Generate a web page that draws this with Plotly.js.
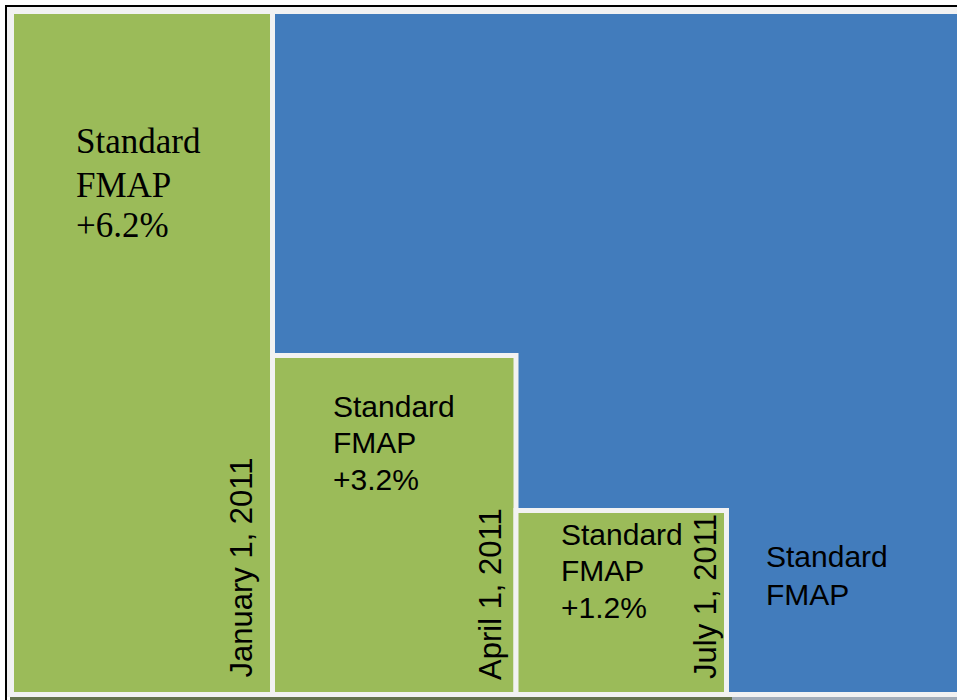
<!DOCTYPE html>
<html>
<head>
<meta charset="utf-8">
<script src="https://cdn.plot.ly/plotly-3.0.1.min.js"></script>
<style>html,body{margin:0;padding:0;background:#fff;}#chart{width:957px;height:700px;}</style>
</head>
<body>
<div id="chart"></div>
<script>
// ---- data ----
const periods = ['Before January 1, 2011', 'January 1 to March 31, 2011', 'April 1 to June 30, 2011', 'From July 1, 2011'];
const changeDates = ['January 1, 2011', 'April 1, 2011', 'July 1, 2011'];
const fmapIncrease = ['+6.2%', '+3.2%', '+1.2%'];
const stepHeight = [100.37, 49.63, 26.77];   // height of the enhanced-FMAP steps (% of full height)
const standardHeight = [100.37];             // standard FMAP area
const blockWords = ['Standard', 'FMAP'];

// ---- layout constants ----
const W = 957, H = 700;
const M = {l: 7, r: 0, t: 7, b: 3};
const PW = W - M.l - M.r, PH = H - M.t - M.b;
const BASE = -0.37;
const COL_EDGES = [4.5, 265.5, 509, 719.5, 952.5];
const GREEN = '#9bbb59', BLUE = '#427cbc', GAP = '#f2f2f2';

const px = a => (a - M.l) / PW;
const py = a => (H - M.b - a) / PH;

const greenX = [], greenW = [], greenY = [];
for (let i = 0; i < stepHeight.length; i++) {
  greenX.push((COL_EDGES[i] + COL_EDGES[i + 1]) / 2);
  greenW.push(COL_EDGES[i + 1] - COL_EDGES[i]);
  greenY.push(stepHeight[i] - BASE);
}
const blueX = [(COL_EDGES[1] + COL_EDGES[4]) / 2];
const blueW = [COL_EDGES[4] - COL_EDGES[1]];
const blueY = [standardHeight[0] - BASE];

const traces = [
  {type: 'bar', name: periods[3], x: blueX, y: blueY, width: blueW, base: BASE,
   marker: {color: BLUE, line: {color: GAP, width: 5}}, hoverinfo: 'skip', showlegend: false},
  {type: 'bar', name: 'Enhanced FMAP', x: greenX, y: greenY, width: greenW, base: BASE,
   text: periods.slice(0, 3), textposition: 'none',
   marker: {color: GREEN, line: {color: GAP, width: 5}}, hoverinfo: 'skip', showlegend: false}
];

const annotations = [];
function lineAnn(text, xAbs, baseAbs, family, size) {
  const k = family.indexOf('Serif') >= 0 ? 0.3375 : 0.3465;
  annotations.push({xref: 'paper', yref: 'paper', x: px(xAbs), y: py(baseAbs - k * size),
    xanchor: 'left', yanchor: 'middle', showarrow: false, text: text,
    font: {family: family, size: size, color: '#000'}});
}
function block(lines, xAbs, baselines, family, size) {
  lines.forEach((t, i) => lineAnn(t, xAbs, baselines[i], family, size));
}
block([blockWords[0], blockWords[1], fmapIncrease[0]], 74, [153, 197, 237], 'Liberation Serif', 35);
block([blockWords[0], blockWords[1], fmapIncrease[1]], 331, [417, 453, 490], 'Liberation Sans', 30);
block([blockWords[0], blockWords[1], fmapIncrease[2]], 559, [545, 581, 618], 'Liberation Sans', 30);
block([blockWords[0], blockWords[1]], 764, [567, 605], 'Liberation Sans', 30);

const dateCenters = [[241, 567.5], [490, 594], [705, 597]];
changeDates.forEach((d, i) => {
  annotations.push({xref: 'paper', yref: 'paper', x: px(dateCenters[i][0]), y: py(dateCenters[i][1]),
    xanchor: 'center', yanchor: 'middle', textangle: -90, showarrow: false, text: d,
    font: {family: 'Liberation Sans', size: 31, color: '#000'}});
});

const shapes = [
  // black frame (left and top)
  {type: 'rect', xref: 'paper', yref: 'paper', x0: px(5), x1: px(7), y0: py(700), y1: py(5), fillcolor: '#000', line: {width: 0}, layer: 'above'},
  {type: 'rect', xref: 'paper', yref: 'paper', x0: px(5), x1: px(957), y0: py(7), y1: py(5), fillcolor: '#000', line: {width: 0}, layer: 'above'},
  // bottom edge strip
  {type: 'rect', xref: 'paper', yref: 'paper', x0: px(10), x1: px(732), y0: py(700), y1: py(697), fillcolor: '#66744f', line: {width: 0}, layer: 'above'},
  {type: 'rect', xref: 'paper', yref: 'paper', x0: px(732), x1: px(957), y0: py(700), y1: py(697), fillcolor: '#a3adb9', line: {width: 0}, layer: 'above'}
];

const layout = {
  width: W, height: H, margin: M,
  paper_bgcolor: '#ffffff', plot_bgcolor: GAP,
  barmode: 'overlay', bargap: 0,
  showlegend: false,
  xaxis: {range: [0, PW], visible: false, fixedrange: true},
  yaxis: {range: [-5 / 6.78, 100 + 7 / 6.78], visible: false, fixedrange: true},
  annotations: annotations, shapes: shapes
};

Plotly.newPlot('chart', traces, layout, {displayModeBar: false, staticPlot: true});
</script>
</body>
</html>
